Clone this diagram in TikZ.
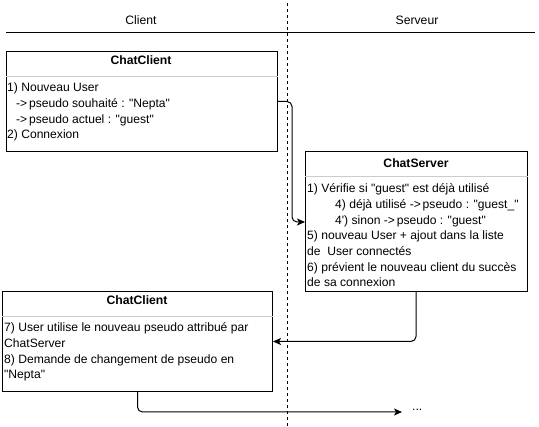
\documentclass[tikz,border=0pt]{standalone}
\usepackage{fontspec}
\setmainfont{Liberation Sans}[Ligatures=TeXOff]
\usetikzlibrary{arrows.meta,calc}
\begin{document}
\begin{tikzpicture}[x=1pt,y=-1pt,
  box/.style={draw=black,line width=1pt,fill=white,anchor=north west,inner sep=0pt},
  sep/.style={draw=black!20,line width=1pt},
  ttl/.style={font=\fontsize{12.2}{14}\selectfont\bfseries,anchor=base,inner sep=0pt},
  body/.style={font=\fontsize{12.1}{15.67}\selectfont,anchor=base west,align=left,inner sep=0pt},
  lane/.style={font=\fontsize{12.2}{14}\selectfont,anchor=base,inner sep=0pt},
  conn/.style={draw=black,line width=1pt,rounded corners=5pt,-{Stealth[length=8pt,width=7pt,inset=2pt]}}]
\useasboundingbox (0,0) rectangle (539,427);
% lanes
\draw[line width=1pt,dash pattern=on 3pt off 3pt] (287,3) -- (287,427);
\draw[line width=1pt] (6,33) -- (535,33);
\node[lane] (client) at (141,25) {Client};
\node[lane] (serveur) at (417,25) {Serveur};
% box 1
\node[box,minimum width=271pt,minimum height=100pt] (c1) at (6,51) {};
\draw[sep] ([yshift=-26pt]c1.north west) -- ([yshift=-26pt]c1.north east);
\node[ttl] (t1) at (141,65) {ChatClient};
\node[body] (b1) at (7,139) {1) Nouveau User\\\hspace*{9pt}->\hspace{0.15em}pseudo souhaité : "Nepta"\\\hspace*{9pt}->\hspace{0.15em}pseudo actuel : "guest"\\2) Connexion};
% box 2
\node[box,minimum width=222pt,minimum height=140pt] (s) at (305,151) {};
\draw[sep] ([yshift=-26pt]s.north west) -- ([yshift=-26pt]s.north east);
\node[ttl] (t2) at (416,168) {ChatServer};
\node[body] (b2) at (307,287) {1) Vérifie si "guest" est déjà utilisé\\\hspace*{28pt}4) déjà utilisé ->\hspace{0.15em}pseudo : "guest\_"\\\hspace*{28pt}4') sinon ->\hspace{0.15em}pseudo : "guest"\\5) nouveau User + ajout dans la liste\\de\ \ User connectés\\6) prévient le nouveau client du succès\\de sa connexion};
% box 3
\node[box,minimum width=270pt,minimum height=100pt] (c3) at (2,291) {};
\draw[sep] ([yshift=-26pt]c3.north west) -- ([yshift=-26pt]c3.north east);
\node[ttl] (t3) at (137,305) {ChatClient};
\node[body] (b3) at (4,379) {7) User utilise le nouveau pseudo attribué par\\ChatServer\\8) Demande de changement de pseudo en\\"Nepta"};
% continuation
\node[inner sep=0pt,anchor=west,font=\fontsize{12.2}{14}\selectfont] (dots) at (412,410) {...};
\coordinate (in2) at (305,222);
\coordinate (out2) at (416,291);
\coordinate (end3) at (402,412);
% connectors
\draw[conn] (c1.east) -| (292,160) |- (in2);
\draw[conn] (out2) |- (c3.east);
\draw[conn] (c3.south) |- (end3);
\end{tikzpicture}
\end{document}
